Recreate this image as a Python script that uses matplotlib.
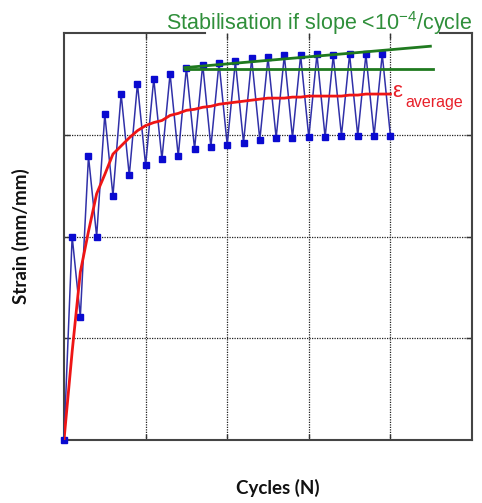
import matplotlib
matplotlib.use("Agg")
import matplotlib.pyplot as plt
from matplotlib.lines import Line2D

plt.rcParams['mathtext.fontset'] = 'custom'
plt.rcParams['mathtext.rm'] = 'Liberation Sans'

# Cycle index of each recorded load step
cycles = [0, 1, 2, 3, 4, 5, 6, 7, 8, 9, 10, 11, 12, 13, 14, 15, 16, 17, 18, 19, 20,
          21, 22, 23, 24, 25, 26, 27, 28, 29, 30, 31, 32, 33, 34, 35, 36, 37, 38, 39, 40]

# Measured strain, alternating minimum / maximum of each cycle
strain = [0.00, 2.00, 1.21, 2.79, 2.00, 3.20, 2.40, 3.40, 2.60, 3.50, 2.70,
          3.55, 2.76, 3.60, 2.79, 3.66, 2.86, 3.69, 2.88, 3.71, 2.90,
          3.72, 2.92, 3.75, 2.95, 3.76, 2.97, 3.78, 2.97, 3.78, 2.975,
          3.79, 2.975, 3.78, 2.99, 3.79, 2.99, 3.79, 2.99, 3.79, 2.99]

# Running average strain
strain_avg = [0.00, 0.87, 1.65, 2.05, 2.42, 2.61, 2.81, 2.89, 2.97, 3.04, 3.09,
              3.12, 3.14, 3.19, 3.21, 3.24, 3.25, 3.27, 3.28, 3.30, 3.31,
              3.32, 3.33, 3.34, 3.35, 3.36, 3.36, 3.36, 3.37, 3.37, 3.38,
              3.38, 3.38, 3.38, 3.38, 3.39, 3.39, 3.40, 3.40, 3.40, 3.40]

# Stabilisation check lines (envelope of peaks vs. horizontal reference)
stab_x_peak = [14.8, 44.9]
stab_y_peak = [3.66, 3.87]
stab_x_ref = [14.8, 45.2]
stab_y_ref = [3.65, 3.65]

W, H = 482, 503
fig = plt.figure(figsize=(W / 100, H / 100), dpi=100)
ax = fig.add_axes([64 / W, 1 - 440 / H, (472 - 64) / W, (440 - 33) / H])

ax.set_xlim(0, 50)
ax.set_ylim(0, 4)
ax.set_xticks([10, 20, 30, 40])
ax.set_yticks([1, 2, 3])
ax.tick_params(direction='in', length=4, width=1, color='#333333',
               top=True, right=True, labelbottom=False, labelleft=False)
ax.grid(True, linestyle=(0, (1, 1)), linewidth=0.9, color='#222222')

frame_col = '#444444'
for side in ['left', 'right', 'bottom']:
    ax.spines[side].set_color(frame_col)
    ax.spines[side].set_linewidth(1.5)
ax.spines['top'].set_visible(False)
for x0, x1 in [(0, (205 - 64) / 408), ((440 - 64) / 408, 1)]:
    ax.add_line(Line2D([x0, x1], [1, 1], transform=ax.transAxes,
                       color=frame_col, lw=1.5, clip_on=False, zorder=5))

ax.plot(cycles, strain, color='#3030a8', lw=1.1, marker='s', ms=4,
        mfc='#0a0ad0', mec='#0a0ad0', clip_on=False, zorder=3)
ax.plot(cycles, strain_avg, color='#ee1515', lw=2.0, zorder=4)
ax.plot(stab_x_peak, stab_y_peak, color='#1f7a1f', lw=2.0, zorder=4)
ax.plot(stab_x_ref, stab_y_ref, color='#1f7a1f', lw=2.0, zorder=4)

fig.text(166 / W, 1 - 30 / H,
         r'Stabilisation if slope <10$^{\mathregular{-4}}$/cycle',
         family='Liberation Sans', fontsize=15.5, color='#2f8f3a',
         ha='left', va='baseline')

fig.text(392 / W, 1 - 97 / H, 'ε', family='Liberation Sans', fontsize=16,
         color='#e8202a', ha='left', va='baseline')
fig.text(405 / W, 1 - 107 / H, 'average', family='Liberation Sans',
         fontsize=11.5, color='#e8202a', ha='left', va='baseline')

ax.set_xlabel('Cycles (N)', family='Lato', fontweight='bold',
              fontsize=13.5, color='#111111')
ax.xaxis.set_label_coords((278 - 64) / 408, (440 - 488) / 407)
ax.xaxis.label.set_va('center')
ax.set_ylabel('Strain (mm/mm)', family='Lato', fontweight='bold',
              fontsize=13.5, color='#111111')
ax.yaxis.set_label_coords((21 - 64) / 408, 0.5)
ax.yaxis.label.set_va('center')

fig.savefig('out.png', dpi=100, facecolor='white')
